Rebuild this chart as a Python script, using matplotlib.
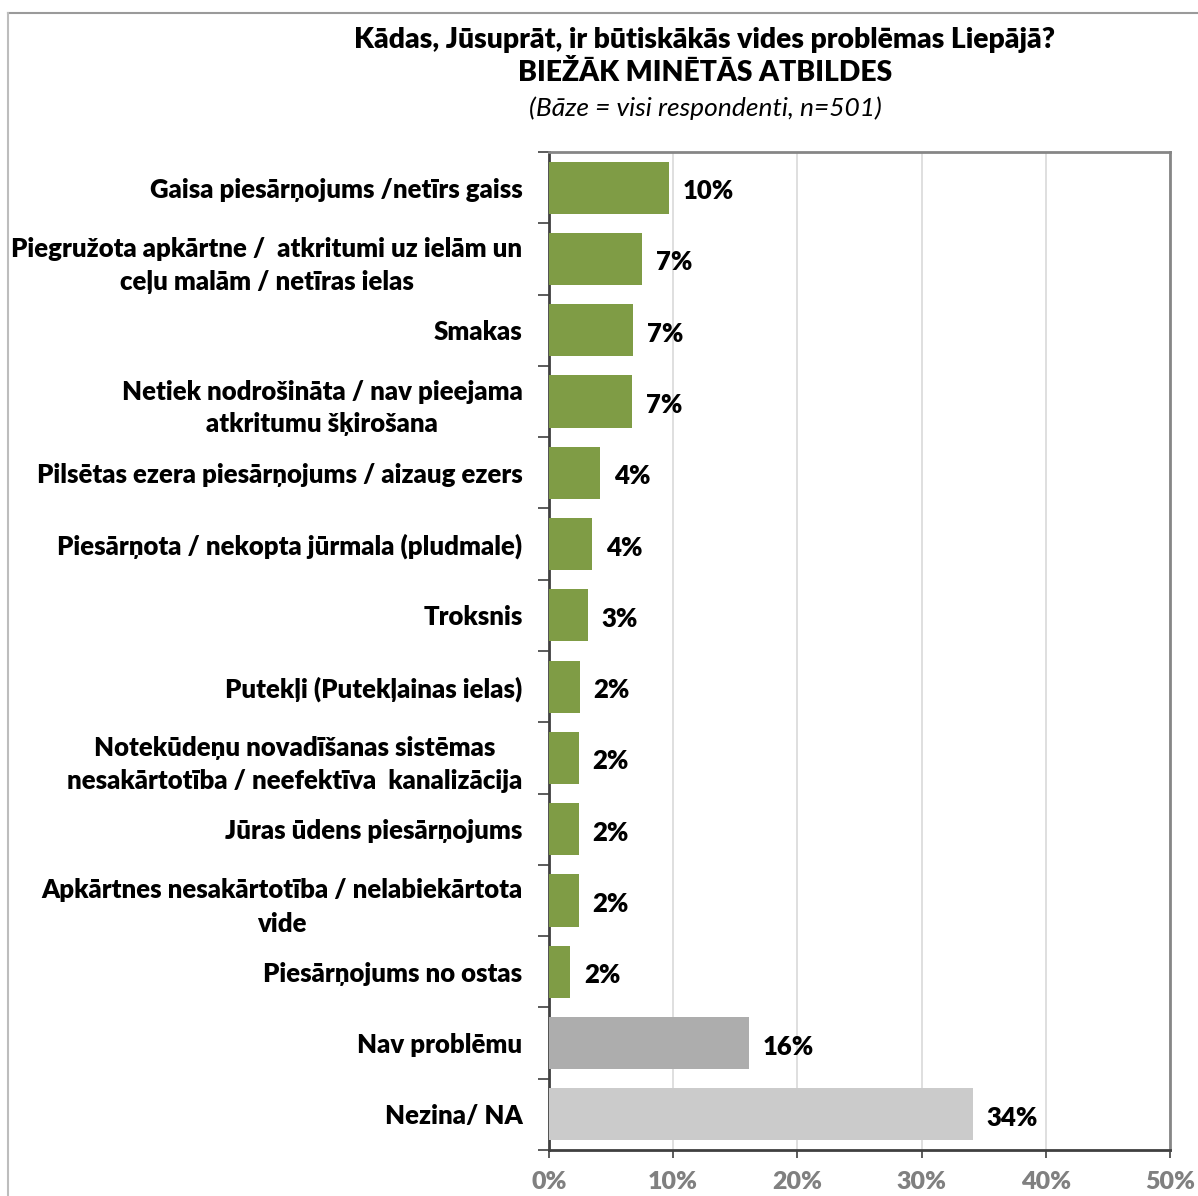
import matplotlib.pyplot as plt
from matplotlib.ticker import FixedLocator, PercentFormatter

plt.rcParams['font.family'] = ['Lato', 'DejaVu Sans']

# Data (percent of respondents)
categories = [
    'Gaisa piesārņojums /netīrs gaiss',
    'Piegružota apkārtne /  atkritumi uz ielām un\nceļu malām / netīras ielas',
    'Smakas',
    'Netiek nodrošināta / nav pieejama\natkritumu šķirošana',
    'Pilsētas ezera piesārņojums / aizaug ezers',
    'Piesārņota / nekopta jūrmala (pludmale)',
    'Troksnis',
    'Putekļi (Putekļainas ielas)',
    'Notekūdeņu novadīšanas sistēmas\nnesakārtotība / neefektīva  kanalizācija',
    'Jūras ūdens piesārņojums',
    'Apkārtnes nesakārtotība / nelabiekārtota\nvide',
    'Piesārņojums no ostas',
    'Nav problēmu',
    'Nezina/ NA',
]
values = [9.7, 7.5, 6.8, 6.7, 4.1, 3.5, 3.1, 2.5, 2.4, 2.4, 2.4, 1.7, 16.1, 34.1]
value_labels = ['10%', '7%', '7%', '7%', '4%', '4%', '3%', '2%', '2%', '2%', '2%', '2%', '16%', '34%']
bar_colors = ['#7F9C45'] * 12 + ['#ADADAD', '#CBCBCB']

fig = plt.figure(figsize=(11.98, 11.96), dpi=100)
ax = fig.add_axes([549 / 1198, 1 - 1150 / 1196, (1170 - 549) / 1198, (1150 - 152) / 1196])

ypos = list(range(len(categories)))
ax.barh(ypos, values, height=0.73, color=bar_colors, zorder=3)
ax.set_ylim(len(categories) - 0.5, -0.5)
ax.set_xlim(0, 50)

for y, v, lab in zip(ypos, values, value_labels):
    ax.text(v + 1.1, y + 0.05, lab, va='center', ha='left', fontsize=18.5, fontweight='heavy', color='black')

ax.set_yticks(ypos)
ax.set_yticklabels(categories, fontsize=18.5, fontweight='heavy', multialignment='center', linespacing=1.45)
ax.yaxis.set_minor_locator(FixedLocator([i - 0.5 for i in range(len(categories) + 1)]))
ax.tick_params(axis='y', which='major', length=0, pad=19)
ax.tick_params(axis='y', which='minor', length=8, width=1.2, color='#404040')

ax.set_xticks([0, 10, 20, 30, 40, 50])
ax.xaxis.set_major_formatter(PercentFormatter(decimals=0))
ax.tick_params(axis='x', length=6, width=1.2, color='#404040', labelsize=18, labelcolor='#808080', pad=9)
for t in ax.get_xticklabels():
    t.set_fontweight('heavy')

ax.grid(axis='x', color='#D9D9D9', linewidth=1.2, zorder=0)
ax.spines['left'].set_color('#404040')
ax.spines['left'].set_linewidth(2)
ax.spines['bottom'].set_color('#404040')
ax.spines['bottom'].set_linewidth(2)
ax.spines['top'].set_color('#868686')
ax.spines['top'].set_linewidth(2)
ax.spines['right'].set_color('#868686')
ax.spines['right'].set_linewidth(2)

# Titles
fig.text(705 / 1198, 1 - 40 / 1196, 'Kādas, Jūsuprāt, ir būtiskākās vides problēmas Liepājā?',
         ha='center', va='center', fontsize=20.3, fontweight='heavy')
fig.text(705 / 1198, 1 - 73 / 1196, 'BIEŽĀK MINĒTĀS ATBILDES',
         ha='center', va='center', fontsize=20.3, fontweight='heavy')
fig.text(705 / 1198, 1 - 108 / 1196, '(Bāze = visi respondenti, n=501)',
         ha='center', va='center', fontsize=19, style='italic')

# Outer chart border (top and left edges visible)
fig.add_artist(plt.Line2D([8 / 1198, 1], [1 - 13 / 1196, 1 - 13 / 1196], color='#9A9A9A', linewidth=1.5))
fig.add_artist(plt.Line2D([8 / 1198, 8 / 1198], [0, 1 - 13 / 1196], color='#BDBDBD', linewidth=1.5))

fig.savefig('out.png', dpi=100)
